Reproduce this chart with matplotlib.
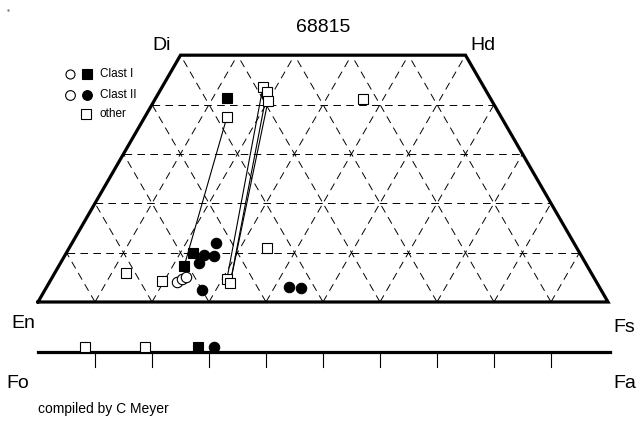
import numpy as np
import matplotlib.pyplot as plt

plt.rcParams['font.family'] = ['Liberation Sans', 'DejaVu Sans']
plt.rcParams['lines.scale_dashes'] = False

# pyroxene compositions, mol % (Wo, Fs)
clast1_px_wo = [41.3, 9.9, 7.3]
clast1_px_fs = [12.5, 22.2, 22.0]
clast2_px_wo = [11.9, 9.5, 9.3, 7.9, 2.4, 3.0, 2.8]
clast2_px_fs = [25.3, 24.4, 26.2, 24.3, 27.6, 42.5, 44.7]
open_px_wo = [4.0, 4.7, 5.1]
open_px_fs = [22.4, 22.9, 23.4]
other_px_wo = [5.9, 4.25, 10.9, 4.7, 3.85, 37.5, 43.5, 42.5, 40.7, 41.1]
other_px_fs = [12.5, 19.6, 34.7, 30.8, 31.8, 14.4, 17.7, 18.9, 20.0, 36.5]

# tie lines between coexisting pyroxenes
tie_wo1 = [37.5, 43.5, 42.5, 40.7]
tie_fs1 = [14.4, 17.7, 18.9, 20.0]
tie_wo2 = [7.3, 4.7, 3.85, 3.85]
tie_fs2 = [22.0, 30.8, 31.8, 31.8]

# olivine, mol % Fa
other_ol_fa = [8.2, 18.8]
clast1_ol_fa = [28.1]
clast2_ol_fa = [30.9]

grid_steps = [10, 20, 30, 40, 50, 60, 70, 80, 90]
wo_rows = [10, 20, 30, 40]


def tern(wo, fs):
    wo = np.asarray(wo, dtype=float) / 100
    fs = np.asarray(fs, dtype=float) / 100
    return fs + wo / 2, wo * np.sqrt(3) / 2


def px(x, y):
    # pixel position of the reference -> data coords
    return (x - 38) / 570, (302 - y) / 570


fig = plt.figure(figsize=(6.41, 4.21), dpi=100)
ax = fig.add_axes([0, 0, 1, 1])
ax.set_xlim(-38 / 570, 603 / 570)
ax.set_ylim(-119 / 570, 302 / 570)
ax.axis('off')

dash = dict(color='black', lw=0.7, linestyle=(0, (5.5, 3.8)), zorder=1)

# grid lines of constant Wo
for w in wo_rows:
    xa, ya = tern([w, w], [0, 100 - w])
    ax.plot(xa, ya, **dash)

# grid lines of constant Fs and constant En
for s in grid_steps:
    top = min(50, 100 - s)
    xa, ya = tern([0, top], [s, s])
    ax.plot(xa, ya, **dash)
    xa, ya = tern([0, top], [100 - s, 100 - s - top])
    ax.plot(xa, ya, **dash)

# quadrilateral outline
xq, yq = tern([0, 0, 50, 50, 0], [0, 100, 50, 0, 0])
ax.plot(xq, yq, color='black', lw=2.3, solid_joinstyle='miter', zorder=3)

# tie lines
for a, b, c, d in zip(tie_wo1, tie_fs1, tie_wo2, tie_fs2):
    xa, ya = tern([a, c], [b, d])
    ax.plot(xa, ya, color='black', lw=0.8, zorder=2)

mk = dict(linestyle='none', markeredgecolor='black', markeredgewidth=0.8, zorder=4)
x, y = tern(other_px_wo, other_px_fs)
ax.plot(x, y, marker='s', ms=7, markerfacecolor='white', **mk)
x, y = tern(open_px_wo, open_px_fs)
ax.plot(x, y, marker='o', ms=7.5, markerfacecolor='white', **mk)
x, y = tern(clast2_px_wo, clast2_px_fs)
ax.plot(x, y, marker='o', ms=7.5, markerfacecolor='black', **mk)
x, y = tern(clast1_px_wo, clast1_px_fs)
ax.plot(x, y, marker='s', ms=7, markerfacecolor='black', **mk)

# olivine line Fo - Fa
ol_y = -50 / 570
ax.plot([0, 572 / 570], [ol_y, ol_y], color='black', lw=2.3, zorder=3)
for s in grid_steps:
    ax.plot([s / 100, s / 100], [ol_y, ol_y - 15 / 570], color='black', lw=0.8, zorder=3)
mk_y = ol_y + 5 / 570
ax.plot(np.array(other_ol_fa) / 100, [mk_y] * len(other_ol_fa), marker='s', ms=7,
        markerfacecolor='white', **mk)
ax.plot(np.array(clast1_ol_fa) / 100, [mk_y] * len(clast1_ol_fa), marker='s', ms=7,
        markerfacecolor='black', **mk)
ax.plot(np.array(clast2_ol_fa) / 100, [mk_y] * len(clast2_ol_fa), marker='o', ms=7.5,
        markerfacecolor='black', **mk)

# labels
big = 14
ax.text(*px(323, 27), '68815', fontsize=big, ha='center', va='center')
ax.text(*px(162, 46), 'Di', fontsize=big, ha='center', va='center')
ax.text(*px(483, 46), 'Hd', fontsize=big, ha='center', va='center')
ax.text(*px(23, 323), 'En', fontsize=big, ha='center', va='center')
ax.text(*px(624, 327), 'Fs', fontsize=big, ha='center', va='center')
ax.text(*px(18, 383), 'Fo', fontsize=big, ha='center', va='center')
ax.text(*px(625, 383), 'Fa', fontsize=big, ha='center', va='center')
ax.text(*px(38, 409), 'compiled by C Meyer', fontsize=10, ha='left', va='center')
ax.plot(*px(8, 10), marker='.', ms=1.5, color='gray')

# legend
legend_rows = [('Clast I', 74), ('Clast II', 95), ('other', 114)]
ax.plot(*px(70, 74), marker='o', ms=6.5, markerfacecolor='white', **mk)
ax.plot(*px(87, 74), marker='s', ms=6.5, markerfacecolor='black', **mk)
ax.plot(*px(70, 95), marker='o', ms=7, markerfacecolor='white', **mk)
ax.plot(*px(87, 95), marker='o', ms=7, markerfacecolor='black', **mk)
ax.plot(*px(86, 114), marker='s', ms=6.5, markerfacecolor='white', **mk)
for name, yy in legend_rows:
    ax.text(*px(100, yy), name, fontsize=8.5, ha='left', va='center')

fig.savefig('out.png', dpi=100)
